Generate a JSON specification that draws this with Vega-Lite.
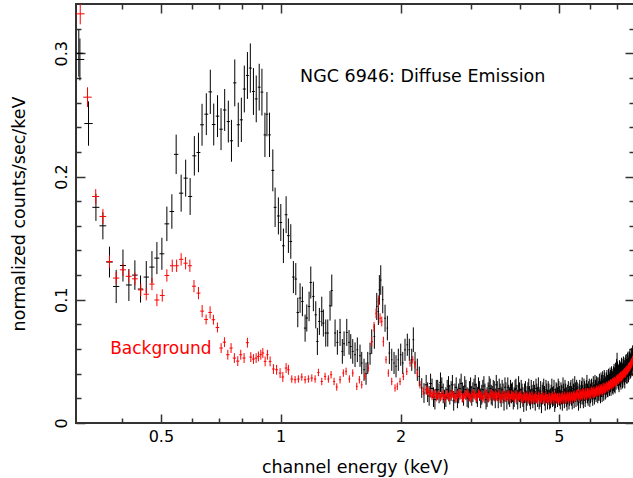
{
"$schema": "https://vega.github.io/schema/vega-lite/v6.json",
"width": 558,
"height": 419,
"autosize": {"type": "none"},
"padding": {"left": 76, "top": 4, "right": 0, "bottom": 55},
"background": "white",
"config": {
  "view": {"stroke": "#333333", "strokeWidth": 2},
  "font": "DejaVu Sans",
  "axis": {"domain": false, "grid": false, "tickColor": "#333333", "tickWidth": 1.5, "labelColor": "#000000", "titleColor": "#000000", "labelFont": "DejaVu Sans", "titleFont": "DejaVu Sans", "labelFontSize": 16, "titleFontSize": 17.5, "titleFontWeight": "normal", "labelOverlap": false, "labelFlush": false, "labelBound": false}
},
"datasets": {
"src": [
{"e":0.311,"y":0.300,"d":0.019,"w":0.008},
{"e":0.313,"y":0.295,"d":0.017,"w":0.008},
{"e":0.329,"y":0.243,"d":0.018,"w":0.008},
{"e":0.3434,"y":0.175,"d":0.011,"w":0.007},
{"e":0.3575,"y":0.160,"d":0.011,"w":0.007},
{"e":0.3714,"y":0.1306,"d":0.0125,"w":0.007},
{"e":0.3861,"y":0.1108,"d":0.0135,"w":0.007},
{"e":0.4015,"y":0.1278,"d":0.013,"w":0.007},
{"e":0.4155,"y":0.112,"d":0.013,"w":0.007},
{"e":0.4302,"y":0.120,"d":0.012,"w":0.007},
{"e":0.4445,"y":0.1087,"d":0.011,"w":0.007},
{"e":0.4595,"y":0.1184,"d":0.013,"w":0.007},
{"e":0.4748,"y":0.1265,"d":0.013,"w":0.007},
{"e":0.4886,"y":0.1338,"d":0.013,"w":0.007},
{"e":0.5029,"y":0.1373,"d":0.013,"w":0.007},
{"e":0.5176,"y":0.1616,"d":0.014,"w":0.007},
{"e":0.5328,"y":0.1716,"d":0.014,"w":0.007},
{"e":0.5462,"y":0.218,"d":0.016,"w":0.007},
{"e":0.5622,"y":0.1865,"d":0.015,"w":0.007},
{"e":0.5771,"y":0.1987,"d":0.015,"w":0.007},
{"e":0.5922,"y":0.1838,"d":0.015,"w":0.007},
{"e":0.6068,"y":0.2168,"d":0.016,"w":0.007},
{"e":0.6214,"y":0.2195,"d":0.016,"w":0.007},
{"e":0.6344,"y":0.242,"d":0.017,"w":0.007},
{"e":0.6503,"y":0.2506,"d":0.017,"w":0.007},
{"e":0.6655,"y":0.2687,"d":0.018,"w":0.007},
{"e":0.6788,"y":0.2422,"d":0.017,"w":0.007},
{"e":0.6939,"y":0.249,"d":0.017,"w":0.007},
{"e":0.7081,"y":0.2384,"d":0.017,"w":0.007},
{"e":0.7232,"y":0.254,"d":0.017,"w":0.007},
{"e":0.7386,"y":0.2446,"d":0.017,"w":0.007},
{"e":0.7521,"y":0.229,"d":0.017,"w":0.007},
{"e":0.7667,"y":0.276,"d":0.019,"w":0.007},
{"e":0.7824,"y":0.242,"d":0.018,"w":0.007},
{"e":0.7964,"y":0.246,"d":0.018,"w":0.007},
{"e":0.8102,"y":0.271,"d":0.019,"w":0.007},
{"e":0.8249,"y":0.282,"d":0.019,"w":0.007},
{"e":0.8389,"y":0.288,"d":0.020,"w":0.007},
{"e":0.8541,"y":0.269,"d":0.019,"w":0.007},
{"e":0.8681,"y":0.263,"d":0.019,"w":0.007},
{"e":0.8831,"y":0.2725,"d":0.019,"w":0.007},
{"e":0.8971,"y":0.2685,"d":0.019,"w":0.007},
{"e":0.9128,"y":0.2338,"d":0.018,"w":0.007},
{"e":0.9234,"y":0.2506,"d":0.018,"w":0.007},
{"e":0.9374,"y":0.2338,"d":0.018,"w":0.007},
{"e":0.9554,"y":0.205,"d":0.017,"w":0.008},
{"e":0.9681,"y":0.175,"d":0.016,"w":0.008},
{"e":0.9867,"y":0.168,"d":0.015,"w":0.008},
{"e":1.0006,"y":0.1627,"d":0.015,"w":0.008},
{"e":1.0158,"y":0.1438,"d":0.014,"w":0.008},
{"e":1.0318,"y":0.169,"d":0.015,"w":0.008},
{"e":1.0455,"y":0.152,"d":0.014,"w":0.008},
{"e":1.0601,"y":0.1473,"d":0.014,"w":0.008},
{"e":1.0762,"y":0.1184,"d":0.013,"w":0.008},
{"e":1.0912,"y":0.1168,"d":0.013,"w":0.008},
{"e":1.1039,"y":0.0897,"d":0.012,"w":0.008},
{"e":1.1186,"y":0.1014,"d":0.012,"w":0.008},
{"e":1.1337,"y":0.0986,"d":0.012,"w":0.008},
{"e":1.1516,"y":0.077,"d":0.011,"w":0.008},
{"e":1.1629,"y":0.0852,"d":0.011,"w":0.008},
{"e":1.1785,"y":0.0946,"d":0.012,"w":0.008},
{"e":1.1901,"y":0.114,"d":0.013,"w":0.008},
{"e":1.2080,"y":0.1027,"d":0.012,"w":0.008},
{"e":1.2249,"y":0.0878,"d":0.011,"w":0.008},
{"e":1.2363,"y":0.0662,"d":0.011,"w":0.008},
{"e":1.2508,"y":0.0824,"d":0.011,"w":0.008},
{"e":1.2682,"y":0.0905,"d":0.012,"w":0.008},
{"e":1.2800,"y":0.0811,"d":0.011,"w":0.008},
{"e":1.2978,"y":0.073,"d":0.011,"w":0.008},
{"e":1.3129,"y":0.073,"d":0.011,"w":0.008},
{"e":1.3305,"y":0.0951,"d":0.012,"w":0.008},
{"e":1.3437,"y":0.1075,"d":0.013,"w":0.008},
{"e":1.3696,"y":0.073,"d":0.011,"w":0.008},
{"e":1.3879,"y":0.0654,"d":0.010,"w":0.008},
{"e":1.4097,"y":0.0735,"d":0.011,"w":0.008},
{"e":1.4286,"y":0.0581,"d":0.010,"w":0.008},
{"e":1.4428,"y":0.0643,"d":0.010,"w":0.008},
{"e":1.4656,"y":0.0735,"d":0.011,"w":0.008},
{"e":1.4850,"y":0.0654,"d":0.010,"w":0.008},
{"e":1.4997,"y":0.0621,"d":0.010,"w":0.008},
{"e":1.5171,"y":0.0581,"d":0.010,"w":0.008},
{"e":1.5373,"y":0.0554,"d":0.010,"w":0.008},
{"e":1.5580,"y":0.0594,"d":0.010,"w":0.008},
{"e":1.5823,"y":0.0546,"d":0.009,"w":0.008},
{"e":1.5980,"y":0.0487,"d":0.009,"w":0.008},
{"e":1.6195,"y":0.0432,"d":0.009,"w":0.008},
{"e":1.6383,"y":0.040,"d":0.009,"w":0.008},
{"e":1.6546,"y":0.0487,"d":0.009,"w":0.008},
{"e":1.6768,"y":0.0562,"d":0.009,"w":0.008},
{"e":1.6932,"y":0.066,"d":0.010,"w":0.008},
{"e":1.7192,"y":0.0702,"d":0.010,"w":0.008},
{"e":1.7432,"y":0.0946,"d":0.011,"w":0.008},
{"e":1.7594,"y":0.0905,"d":0.011,"w":0.008},
{"e":1.7696,"y":0.108,"d":0.012,"w":0.008},
{"e":1.7839,"y":0.116,"d":0.012,"w":0.008},
{"e":1.8046,"y":0.100,"d":0.011,"w":0.008},
{"e":1.8288,"y":0.085,"d":0.011,"w":0.008},
{"e":1.8534,"y":0.077,"d":0.010,"w":0.008},
{"e":1.8748,"y":0.0568,"d":0.009,"w":0.008},
{"e":1.9009,"y":0.0513,"d":0.009,"w":0.008},
{"e":1.9264,"y":0.0487,"d":0.009,"w":0.008},
{"e":1.9487,"y":0.046,"d":0.009,"w":0.008},
{"e":1.9749,"y":0.0513,"d":0.009,"w":0.008},
{"e":2.0024,"y":0.0554,"d":0.009,"w":0.01},
{"e":2.0258,"y":0.0487,"d":0.009,"w":0.01},
{"e":2.0526,"y":0.0594,"d":0.009,"w":0.01},
{"e":2.0803,"y":0.0635,"d":0.009,"w":0.01},
{"e":2.1044,"y":0.0594,"d":0.009,"w":0.01},
{"e":2.1342,"y":0.0513,"d":0.009,"w":0.01},
{"e":2.1540,"y":0.0676,"d":0.010,"w":0.01},
{"e":2.1750,"y":0.0487,"d":0.009,"w":0.01},
{"e":2.2043,"y":0.0432,"d":0.009,"w":0.01},
{"e":2.2298,"y":0.0378,"d":0.008,"w":0.01},
{"e":2.2613,"y":0.0284,"d":0.008,"w":0.01},
{"e":2.2909,"y":0.0243,"d":0.008,"w":0.01},
{"e":2.32,"y":0.031,"d":0.008,"w":0.02},
{"e":2.36,"y":0.022,"d":0.008,"w":0.02},
{"e":2.40,"y":0.028,"d":0.008,"w":0.02},
{"e":2.44,"y":0.019,"d":0.008,"w":0.02},
{"e":2.48,"y":0.027,"d":0.008,"w":0.02},
{"e":2.52,"y":0.033,"d":0.008,"w":0.02},
{"e":2.56,"y":0.024,"d":0.008,"w":0.02},
{"e":2.60,"y":0.021,"d":0.008,"w":0.02},
{"e":2.64,"y":0.030,"d":0.008,"w":0.02},
{"e":2.68,"y":0.026,"d":0.008,"w":0.02},
{"e":2.72,"y":0.018,"d":0.008,"w":0.02},
{"e":2.76,"y":0.029,"d":0.008,"w":0.02},
{"e":2.80,"y":0.024,"d":0.008,"w":0.02},
{"e":2.84,"y":0.032,"d":0.008,"w":0.02},
{"e":2.88,"y":0.022,"d":0.008,"w":0.02},
{"e":2.92,"y":0.027,"d":0.008,"w":0.02},
{"e":2.96,"y":0.020,"d":0.008,"w":0.02},
{"e":3.00,"y":0.029,"d":0.008,"w":0.02},
{"e":3.04,"y":0.025,"d":0.008,"w":0.02},
{"e":3.08,"y":0.031,"d":0.008,"w":0.02},
{"e":3.12,"y":0.021,"d":0.008,"w":0.02},
{"e":3.16,"y":0.026,"d":0.008,"w":0.02},
{"e":3.20,"y":0.023,"d":0.008,"w":0.02},
{"e":3.24,"y":0.030,"d":0.008,"w":0.02},
{"e":3.28,"y":0.019,"d":0.008,"w":0.02},
{"e":3.32,"y":0.025,"d":0.008,"w":0.02},
{"e":3.36,"y":0.028,"d":0.008,"w":0.02},
{"e":3.40,"y":0.022,"d":0.008,"w":0.02},
{"e":3.44,"y":0.026,"d":0.008,"w":0.02},
{"e":3.48,"y":0.031,"d":0.008,"w":0.02},
{"e":3.52,"y":0.020,"d":0.008,"w":0.02},
{"e":3.56,"y":0.024,"d":0.008,"w":0.02},
{"e":3.60,"y":0.027,"d":0.008,"w":0.02},
{"e":3.64,"y":0.018,"d":0.008,"w":0.02},
{"e":3.68,"y":0.025,"d":0.008,"w":0.02},
{"e":3.72,"y":0.029,"d":0.008,"w":0.02},
{"e":3.76,"y":0.021,"d":0.008,"w":0.02},
{"e":3.80,"y":0.024,"d":0.008,"w":0.02},
{"e":3.84,"y":0.019,"d":0.008,"w":0.02},
{"e":3.88,"y":0.027,"d":0.008,"w":0.02},
{"e":3.92,"y":0.023,"d":0.008,"w":0.02},
{"e":3.96,"y":0.030,"d":0.008,"w":0.02},
{"e":4.00,"y":0.020,"d":0.008,"w":0.02},
{"e":4.04,"y":0.024,"d":0.008,"w":0.02},
{"e":4.08,"y":0.017,"d":0.008,"w":0.02},
{"e":4.12,"y":0.026,"d":0.008,"w":0.02},
{"e":4.16,"y":0.022,"d":0.008,"w":0.02},
{"e":4.20,"y":0.028,"d":0.008,"w":0.02},
{"e":4.24,"y":0.019,"d":0.008,"w":0.02},
{"e":4.28,"y":0.023,"d":0.008,"w":0.02},
{"e":4.32,"y":0.026,"d":0.008,"w":0.02},
{"e":4.36,"y":0.018,"d":0.008,"w":0.02},
{"e":4.40,"y":0.024,"d":0.008,"w":0.02},
{"e":4.44,"y":0.029,"d":0.008,"w":0.02},
{"e":4.48,"y":0.021,"d":0.008,"w":0.02},
{"e":4.52,"y":0.016,"d":0.008,"w":0.02},
{"e":4.56,"y":0.025,"d":0.008,"w":0.02},
{"e":4.60,"y":0.022,"d":0.008,"w":0.02},
{"e":4.64,"y":0.027,"d":0.008,"w":0.02},
{"e":4.68,"y":0.019,"d":0.008,"w":0.02},
{"e":4.72,"y":0.024,"d":0.008,"w":0.02},
{"e":4.76,"y":0.020,"d":0.008,"w":0.02},
{"e":4.80,"y":0.028,"d":0.008,"w":0.02},
{"e":4.84,"y":0.022,"d":0.008,"w":0.02},
{"e":4.88,"y":0.017,"d":0.008,"w":0.02},
{"e":4.92,"y":0.025,"d":0.008,"w":0.02},
{"e":4.96,"y":0.021,"d":0.008,"w":0.02},
{"e":5.00,"y":0.026,"d":0.008,"w":0.02},
{"e":5.04,"y":0.019,"d":0.008,"w":0.02},
{"e":5.08,"y":0.023,"d":0.008,"w":0.02},
{"e":5.12,"y":0.029,"d":0.008,"w":0.02},
{"e":5.16,"y":0.020,"d":0.008,"w":0.02},
{"e":5.20,"y":0.024,"d":0.008,"w":0.02},
{"e":5.24,"y":0.018,"d":0.008,"w":0.02},
{"e":5.28,"y":0.026,"d":0.008,"w":0.02},
{"e":5.32,"y":0.022,"d":0.008,"w":0.02},
{"e":5.36,"y":0.027,"d":0.008,"w":0.02},
{"e":5.40,"y":0.019,"d":0.008,"w":0.02},
{"e":5.44,"y":0.024,"d":0.008,"w":0.02},
{"e":5.48,"y":0.030,"d":0.008,"w":0.02},
{"e":5.52,"y":0.021,"d":0.008,"w":0.02},
{"e":5.56,"y":0.025,"d":0.008,"w":0.02},
{"e":5.60,"y":0.018,"d":0.008,"w":0.02},
{"e":5.64,"y":0.027,"d":0.008,"w":0.02},
{"e":5.68,"y":0.023,"d":0.008,"w":0.02},
{"e":5.72,"y":0.029,"d":0.008,"w":0.02},
{"e":5.76,"y":0.020,"d":0.008,"w":0.02},
{"e":5.80,"y":0.026,"d":0.008,"w":0.02},
{"e":5.84,"y":0.024,"d":0.008,"w":0.02},
{"e":5.88,"y":0.031,"d":0.008,"w":0.02},
{"e":5.92,"y":0.022,"d":0.008,"w":0.02},
{"e":5.96,"y":0.028,"d":0.008,"w":0.02},
{"e":6.00,"y":0.024,"d":0.008,"w":0.02},
{"e":6.04,"y":0.028,"d":0.008,"w":0.02},
{"e":6.08,"y":0.022,"d":0.008,"w":0.02},
{"e":6.12,"y":0.027,"d":0.008,"w":0.02},
{"e":6.16,"y":0.031,"d":0.008,"w":0.02},
{"e":6.20,"y":0.025,"d":0.008,"w":0.02},
{"e":6.24,"y":0.029,"d":0.008,"w":0.02},
{"e":6.28,"y":0.026,"d":0.008,"w":0.02},
{"e":6.32,"y":0.031,"d":0.009,"w":0.02},
{"e":6.36,"y":0.025,"d":0.009,"w":0.02},
{"e":6.40,"y":0.030,"d":0.009,"w":0.02},
{"e":6.44,"y":0.033,"d":0.009,"w":0.02},
{"e":6.48,"y":0.027,"d":0.009,"w":0.02},
{"e":6.52,"y":0.032,"d":0.009,"w":0.02},
{"e":6.56,"y":0.029,"d":0.009,"w":0.02},
{"e":6.60,"y":0.034,"d":0.009,"w":0.02},
{"e":6.64,"y":0.030,"d":0.009,"w":0.02},
{"e":6.68,"y":0.033,"d":0.009,"w":0.02},
{"e":6.72,"y":0.036,"d":0.009,"w":0.02},
{"e":6.76,"y":0.031,"d":0.009,"w":0.02},
{"e":6.80,"y":0.035,"d":0.009,"w":0.02},
{"e":6.84,"y":0.032,"d":0.009,"w":0.02},
{"e":6.88,"y":0.038,"d":0.010,"w":0.02},
{"e":6.92,"y":0.034,"d":0.010,"w":0.02},
{"e":6.96,"y":0.037,"d":0.010,"w":0.02},
{"e":7.00,"y":0.046,"d":0.011,"w":0.02},
{"e":7.04,"y":0.038,"d":0.010,"w":0.02},
{"e":7.08,"y":0.035,"d":0.010,"w":0.02},
{"e":7.12,"y":0.040,"d":0.010,"w":0.02},
{"e":7.16,"y":0.037,"d":0.010,"w":0.02},
{"e":7.20,"y":0.042,"d":0.010,"w":0.02},
{"e":7.24,"y":0.039,"d":0.010,"w":0.02},
{"e":7.28,"y":0.043,"d":0.010,"w":0.02},
{"e":7.32,"y":0.038,"d":0.010,"w":0.02},
{"e":7.36,"y":0.045,"d":0.010,"w":0.02},
{"e":7.40,"y":0.042,"d":0.010,"w":0.02},
{"e":7.44,"y":0.047,"d":0.010,"w":0.02},
{"e":7.48,"y":0.043,"d":0.010,"w":0.02},
{"e":7.52,"y":0.048,"d":0.010,"w":0.02},
{"e":7.56,"y":0.046,"d":0.010,"w":0.02},
{"e":7.60,"y":0.051,"d":0.010,"w":0.02},
{"e":7.64,"y":0.048,"d":0.010,"w":0.02},
{"e":7.68,"y":0.052,"d":0.010,"w":0.02},
{"e":7.72,"y":0.054,"d":0.010,"w":0.02},
{"e":2.34,"y":0.025,"d":0.008,"w":0.02},
{"e":2.38,"y":0.032,"d":0.008,"w":0.02},
{"e":2.42,"y":0.021,"d":0.008,"w":0.02},
{"e":2.46,"y":0.027,"d":0.008,"w":0.02},
{"e":2.50,"y":0.024,"d":0.008,"w":0.02},
{"e":2.54,"y":0.029,"d":0.008,"w":0.02},
{"e":2.58,"y":0.019,"d":0.008,"w":0.02},
{"e":2.62,"y":0.027,"d":0.008,"w":0.02},
{"e":2.66,"y":0.023,"d":0.008,"w":0.02},
{"e":2.70,"y":0.031,"d":0.008,"w":0.02},
{"e":2.74,"y":0.024,"d":0.008,"w":0.02},
{"e":2.78,"y":0.020,"d":0.008,"w":0.02},
{"e":2.82,"y":0.028,"d":0.008,"w":0.02},
{"e":2.86,"y":0.025,"d":0.008,"w":0.02},
{"e":2.90,"y":0.030,"d":0.008,"w":0.02},
{"e":2.94,"y":0.021,"d":0.008,"w":0.02},
{"e":2.98,"y":0.026,"d":0.008,"w":0.02},
{"e":3.02,"y":0.022,"d":0.008,"w":0.02},
{"e":3.06,"y":0.028,"d":0.008,"w":0.02},
{"e":3.10,"y":0.024,"d":0.008,"w":0.02},
{"e":3.14,"y":0.029,"d":0.008,"w":0.02},
{"e":3.18,"y":0.020,"d":0.008,"w":0.02},
{"e":3.22,"y":0.027,"d":0.008,"w":0.02},
{"e":3.26,"y":0.024,"d":0.008,"w":0.02},
{"e":3.30,"y":0.021,"d":0.008,"w":0.02},
{"e":3.34,"y":0.030,"d":0.008,"w":0.02},
{"e":3.38,"y":0.023,"d":0.008,"w":0.02},
{"e":3.42,"y":0.027,"d":0.008,"w":0.02},
{"e":3.46,"y":0.020,"d":0.008,"w":0.02},
{"e":3.50,"y":0.026,"d":0.008,"w":0.02},
{"e":3.54,"y":0.028,"d":0.008,"w":0.02},
{"e":3.58,"y":0.021,"d":0.008,"w":0.02},
{"e":3.62,"y":0.024,"d":0.008,"w":0.02},
{"e":3.66,"y":0.029,"d":0.008,"w":0.02},
{"e":3.70,"y":0.019,"d":0.008,"w":0.02},
{"e":3.74,"y":0.023,"d":0.008,"w":0.02},
{"e":3.78,"y":0.027,"d":0.008,"w":0.02},
{"e":3.82,"y":0.025,"d":0.008,"w":0.02},
{"e":3.86,"y":0.021,"d":0.008,"w":0.02},
{"e":3.90,"y":0.028,"d":0.008,"w":0.02},
{"e":3.94,"y":0.019,"d":0.008,"w":0.02},
{"e":3.98,"y":0.025,"d":0.008,"w":0.02},
{"e":4.02,"y":0.027,"d":0.008,"w":0.02},
{"e":4.06,"y":0.021,"d":0.008,"w":0.02},
{"e":4.10,"y":0.024,"d":0.008,"w":0.02},
{"e":4.14,"y":0.018,"d":0.008,"w":0.02},
{"e":4.18,"y":0.025,"d":0.008,"w":0.02},
{"e":4.22,"y":0.022,"d":0.008,"w":0.02},
{"e":4.26,"y":0.027,"d":0.008,"w":0.02},
{"e":4.30,"y":0.020,"d":0.008,"w":0.02},
{"e":4.34,"y":0.023,"d":0.008,"w":0.02},
{"e":4.38,"y":0.028,"d":0.008,"w":0.02},
{"e":4.42,"y":0.021,"d":0.008,"w":0.02},
{"e":4.46,"y":0.019,"d":0.008,"w":0.02},
{"e":4.50,"y":0.026,"d":0.008,"w":0.02},
{"e":4.54,"y":0.023,"d":0.008,"w":0.02},
{"e":4.58,"y":0.028,"d":0.008,"w":0.02},
{"e":4.62,"y":0.018,"d":0.008,"w":0.02},
{"e":4.66,"y":0.024,"d":0.008,"w":0.02},
{"e":4.70,"y":0.026,"d":0.008,"w":0.02},
{"e":4.74,"y":0.019,"d":0.008,"w":0.02},
{"e":4.78,"y":0.023,"d":0.008,"w":0.02},
{"e":4.82,"y":0.021,"d":0.008,"w":0.02},
{"e":4.86,"y":0.027,"d":0.008,"w":0.02},
{"e":4.90,"y":0.020,"d":0.008,"w":0.02},
{"e":4.94,"y":0.024,"d":0.008,"w":0.02},
{"e":4.98,"y":0.028,"d":0.008,"w":0.02},
{"e":5.02,"y":0.022,"d":0.008,"w":0.02},
{"e":5.06,"y":0.025,"d":0.008,"w":0.02},
{"e":5.10,"y":0.018,"d":0.008,"w":0.02},
{"e":5.14,"y":0.024,"d":0.008,"w":0.02},
{"e":5.18,"y":0.027,"d":0.008,"w":0.02},
{"e":5.22,"y":0.021,"d":0.008,"w":0.02},
{"e":5.26,"y":0.023,"d":0.008,"w":0.02},
{"e":5.30,"y":0.019,"d":0.008,"w":0.02},
{"e":5.34,"y":0.025,"d":0.008,"w":0.02},
{"e":5.38,"y":0.022,"d":0.008,"w":0.02},
{"e":5.42,"y":0.028,"d":0.008,"w":0.02},
{"e":5.46,"y":0.020,"d":0.008,"w":0.02},
{"e":5.50,"y":0.025,"d":0.008,"w":0.02},
{"e":5.54,"y":0.027,"d":0.008,"w":0.02},
{"e":5.58,"y":0.022,"d":0.008,"w":0.02},
{"e":5.62,"y":0.024,"d":0.008,"w":0.02},
{"e":5.66,"y":0.020,"d":0.008,"w":0.02},
{"e":5.70,"y":0.026,"d":0.008,"w":0.02},
{"e":5.74,"y":0.023,"d":0.008,"w":0.02},
{"e":5.78,"y":0.028,"d":0.008,"w":0.02},
{"e":5.82,"y":0.021,"d":0.008,"w":0.02},
{"e":5.86,"y":0.027,"d":0.008,"w":0.02},
{"e":5.90,"y":0.024,"d":0.008,"w":0.02},
{"e":5.94,"y":0.026,"d":0.008,"w":0.02},
{"e":5.98,"y":0.021,"d":0.008,"w":0.02},
{"e":6.02,"y":0.027,"d":0.008,"w":0.02},
{"e":6.06,"y":0.025,"d":0.008,"w":0.02},
{"e":6.10,"y":0.030,"d":0.008,"w":0.02},
{"e":6.14,"y":0.023,"d":0.008,"w":0.02},
{"e":6.18,"y":0.027,"d":0.008,"w":0.02},
{"e":6.22,"y":0.030,"d":0.008,"w":0.02},
{"e":6.26,"y":0.024,"d":0.008,"w":0.02},
{"e":6.30,"y":0.029,"d":0.008,"w":0.02},
{"e":6.34,"y":0.027,"d":0.009,"w":0.02},
{"e":6.38,"y":0.032,"d":0.009,"w":0.02},
{"e":6.42,"y":0.026,"d":0.009,"w":0.02},
{"e":6.46,"y":0.030,"d":0.009,"w":0.02},
{"e":6.50,"y":0.034,"d":0.009,"w":0.02},
{"e":6.54,"y":0.028,"d":0.009,"w":0.02},
{"e":6.58,"y":0.032,"d":0.009,"w":0.02},
{"e":6.62,"y":0.030,"d":0.009,"w":0.02},
{"e":6.66,"y":0.035,"d":0.009,"w":0.02},
{"e":6.70,"y":0.031,"d":0.009,"w":0.02},
{"e":6.74,"y":0.034,"d":0.009,"w":0.02},
{"e":6.78,"y":0.037,"d":0.009,"w":0.02},
{"e":6.82,"y":0.033,"d":0.009,"w":0.02},
{"e":6.86,"y":0.036,"d":0.010,"w":0.02},
{"e":6.90,"y":0.035,"d":0.010,"w":0.02},
{"e":6.94,"y":0.039,"d":0.010,"w":0.02},
{"e":6.98,"y":0.042,"d":0.010,"w":0.02},
{"e":7.02,"y":0.040,"d":0.010,"w":0.02},
{"e":7.06,"y":0.037,"d":0.010,"w":0.02},
{"e":7.10,"y":0.041,"d":0.010,"w":0.02},
{"e":7.14,"y":0.039,"d":0.010,"w":0.02},
{"e":7.18,"y":0.043,"d":0.010,"w":0.02},
{"e":7.22,"y":0.038,"d":0.010,"w":0.02},
{"e":7.26,"y":0.044,"d":0.010,"w":0.02},
{"e":7.30,"y":0.041,"d":0.010,"w":0.02},
{"e":7.34,"y":0.043,"d":0.010,"w":0.02},
{"e":7.38,"y":0.046,"d":0.010,"w":0.02},
{"e":7.42,"y":0.042,"d":0.010,"w":0.02},
{"e":7.46,"y":0.048,"d":0.010,"w":0.02},
{"e":7.50,"y":0.045,"d":0.010,"w":0.02},
{"e":7.54,"y":0.050,"d":0.010,"w":0.02},
{"e":7.58,"y":0.047,"d":0.010,"w":0.02},
{"e":7.62,"y":0.049,"d":0.010,"w":0.02},
{"e":7.66,"y":0.053,"d":0.010,"w":0.02},
{"e":7.70,"y":0.051,"d":0.010,"w":0.02}
],
"bkg": [
{"e":0.3136,"y":0.332,"d":0.0085,"w":0.008},
{"e":0.3271,"y":0.2644,"d":0.008,"w":0.008},
{"e":0.3430,"y":0.1838,"d":0.006,"w":0.007},
{"e":0.3575,"y":0.1676,"d":0.006,"w":0.007},
{"e":0.3714,"y":0.131,"d":0.005,"w":0.007},
{"e":0.3861,"y":0.1176,"d":0.005,"w":0.007},
{"e":0.4015,"y":0.1243,"d":0.005,"w":0.007},
{"e":0.4150,"y":0.119,"d":0.005,"w":0.007},
{"e":0.4302,"y":0.117,"d":0.005,"w":0.007},
{"e":0.4450,"y":0.108,"d":0.005,"w":0.007},
{"e":0.4595,"y":0.1045,"d":0.005,"w":0.007},
{"e":0.4748,"y":0.1127,"d":0.005,"w":0.007},
{"e":0.4886,"y":0.0998,"d":0.005,"w":0.007},
{"e":0.5041,"y":0.1035,"d":0.005,"w":0.007},
{"e":0.5176,"y":0.1197,"d":0.005,"w":0.007},
{"e":0.5340,"y":0.1276,"d":0.005,"w":0.007},
{"e":0.5477,"y":0.1276,"d":0.005,"w":0.007},
{"e":0.5622,"y":0.1328,"d":0.005,"w":0.007},
{"e":0.5768,"y":0.1297,"d":0.005,"w":0.007},
{"e":0.5913,"y":0.1276,"d":0.005,"w":0.007},
{"e":0.6055,"y":0.111,"d":0.005,"w":0.007},
{"e":0.6214,"y":0.1054,"d":0.005,"w":0.007},
{"e":0.6348,"y":0.0908,"d":0.005,"w":0.007},
{"e":0.6495,"y":0.084,"d":0.004,"w":0.007},
{"e":0.6647,"y":0.0897,"d":0.005,"w":0.007},
{"e":0.6776,"y":0.0838,"d":0.004,"w":0.007},
{"e":0.6935,"y":0.0775,"d":0.004,"w":0.007},
{"e":0.7085,"y":0.0608,"d":0.004,"w":0.007},
{"e":0.7222,"y":0.0656,"d":0.004,"w":0.007},
{"e":0.7364,"y":0.0554,"d":0.004,"w":0.007},
{"e":0.7505,"y":0.0608,"d":0.004,"w":0.007},
{"e":0.7649,"y":0.0527,"d":0.004,"w":0.007},
{"e":0.7801,"y":0.0502,"d":0.004,"w":0.007},
{"e":0.7937,"y":0.0554,"d":0.004,"w":0.007},
{"e":0.8091,"y":0.0527,"d":0.004,"w":0.007},
{"e":0.8249,"y":0.0652,"d":0.004,"w":0.007},
{"e":0.8412,"y":0.0535,"d":0.004,"w":0.007},
{"e":0.8541,"y":0.0519,"d":0.004,"w":0.007},
{"e":0.8675,"y":0.0527,"d":0.004,"w":0.007},
{"e":0.8790,"y":0.054,"d":0.004,"w":0.007},
{"e":0.8913,"y":0.0554,"d":0.004,"w":0.007},
{"e":0.9018,"y":0.0568,"d":0.004,"w":0.007},
{"e":0.9138,"y":0.050,"d":0.004,"w":0.007},
{"e":0.9260,"y":0.0554,"d":0.004,"w":0.007},
{"e":0.9405,"y":0.050,"d":0.004,"w":0.007},
{"e":0.9587,"y":0.0438,"d":0.004,"w":0.008},
{"e":0.9766,"y":0.0432,"d":0.004,"w":0.008},
{"e":0.9965,"y":0.0405,"d":0.004,"w":0.008},
{"e":1.0123,"y":0.0373,"d":0.004,"w":0.008},
{"e":1.0318,"y":0.0446,"d":0.004,"w":0.008},
{"e":1.0455,"y":0.0432,"d":0.004,"w":0.008},
{"e":1.0663,"y":0.0357,"d":0.003,"w":0.008},
{"e":1.0869,"y":0.0351,"d":0.003,"w":0.008},
{"e":1.1076,"y":0.0357,"d":0.003,"w":0.008},
{"e":1.1298,"y":0.0373,"d":0.003,"w":0.008},
{"e":1.1516,"y":0.0351,"d":0.003,"w":0.008},
{"e":1.1737,"y":0.0357,"d":0.003,"w":0.008},
{"e":1.1971,"y":0.0365,"d":0.003,"w":0.008},
{"e":1.2202,"y":0.0357,"d":0.003,"w":0.008},
{"e":1.2438,"y":0.041,"d":0.003,"w":0.008},
{"e":1.2682,"y":0.0337,"d":0.003,"w":0.008},
{"e":1.2928,"y":0.0378,"d":0.003,"w":0.008},
{"e":1.3177,"y":0.0357,"d":0.003,"w":0.008},
{"e":1.3384,"y":0.0392,"d":0.003,"w":0.008},
{"e":1.3617,"y":0.0337,"d":0.003,"w":0.008},
{"e":1.3830,"y":0.0292,"d":0.003,"w":0.008},
{"e":1.4097,"y":0.0351,"d":0.003,"w":0.008},
{"e":1.4368,"y":0.0405,"d":0.003,"w":0.008},
{"e":1.4596,"y":0.0419,"d":0.003,"w":0.008},
{"e":1.4878,"y":0.0357,"d":0.003,"w":0.008},
{"e":1.5171,"y":0.0405,"d":0.003,"w":0.008},
{"e":1.5530,"y":0.0297,"d":0.003,"w":0.008},
{"e":1.5764,"y":0.0351,"d":0.003,"w":0.008},
{"e":1.5980,"y":0.031,"d":0.003,"w":0.008},
{"e":1.6288,"y":0.038,"d":0.003,"w":0.008},
{"e":1.6603,"y":0.0446,"d":0.003,"w":0.008},
{"e":1.6932,"y":0.066,"d":0.004,"w":0.008},
{"e":1.7160,"y":0.078,"d":0.004,"w":0.008},
{"e":1.7359,"y":0.089,"d":0.004,"w":0.008},
{"e":1.7594,"y":0.0986,"d":0.005,"w":0.008},
{"e":1.7769,"y":0.085,"d":0.004,"w":0.008},
{"e":1.7944,"y":0.0824,"d":0.004,"w":0.008},
{"e":1.8112,"y":0.066,"d":0.004,"w":0.008},
{"e":1.8394,"y":0.0513,"d":0.003,"w":0.008},
{"e":1.8641,"y":0.0405,"d":0.003,"w":0.008},
{"e":1.9009,"y":0.0337,"d":0.003,"w":0.008},
{"e":1.9376,"y":0.0284,"d":0.003,"w":0.008},
{"e":1.9634,"y":0.0297,"d":0.003,"w":0.008},
{"e":1.9946,"y":0.0337,"d":0.003,"w":0.01},
{"e":2.0331,"y":0.0378,"d":0.003,"w":0.01},
{"e":2.0733,"y":0.0419,"d":0.003,"w":0.01},
{"e":2.1134,"y":0.0487,"d":0.003,"w":0.01},
{"e":2.1468,"y":0.0513,"d":0.003,"w":0.01},
{"e":2.1750,"y":0.0473,"d":0.003,"w":0.01},
{"e":2.2043,"y":0.0405,"d":0.003,"w":0.01},
{"e":2.2387,"y":0.031,"d":0.003,"w":0.01},
{"e":2.2818,"y":0.0256,"d":0.003,"w":0.01},
{"e":2.34,"y":0.026,"d":0.0035,"w":0.02},
{"e":2.38,"y":0.024,"d":0.0035,"w":0.02},
{"e":2.42,"y":0.023,"d":0.0035,"w":0.02},
{"e":2.46,"y":0.021,"d":0.0035,"w":0.02},
{"e":2.50,"y":0.023,"d":0.0035,"w":0.02},
{"e":2.54,"y":0.022,"d":0.0035,"w":0.02},
{"e":2.58,"y":0.020,"d":0.0035,"w":0.02},
{"e":2.62,"y":0.023,"d":0.0035,"w":0.02},
{"e":2.66,"y":0.022,"d":0.0035,"w":0.02},
{"e":2.70,"y":0.024,"d":0.0035,"w":0.02},
{"e":2.74,"y":0.021,"d":0.0035,"w":0.02},
{"e":2.78,"y":0.023,"d":0.0035,"w":0.02},
{"e":2.82,"y":0.022,"d":0.0035,"w":0.02},
{"e":2.86,"y":0.020,"d":0.0035,"w":0.02},
{"e":2.90,"y":0.023,"d":0.0035,"w":0.02},
{"e":2.94,"y":0.024,"d":0.0035,"w":0.02},
{"e":2.98,"y":0.021,"d":0.0035,"w":0.02},
{"e":3.02,"y":0.022,"d":0.0035,"w":0.02},
{"e":3.06,"y":0.023,"d":0.0035,"w":0.02},
{"e":3.10,"y":0.021,"d":0.0035,"w":0.02},
{"e":3.14,"y":0.024,"d":0.0035,"w":0.02},
{"e":3.18,"y":0.022,"d":0.0035,"w":0.02},
{"e":3.22,"y":0.020,"d":0.0035,"w":0.02},
{"e":3.26,"y":0.023,"d":0.0035,"w":0.02},
{"e":3.30,"y":0.022,"d":0.0035,"w":0.02},
{"e":3.34,"y":0.021,"d":0.0035,"w":0.02},
{"e":3.38,"y":0.024,"d":0.0035,"w":0.02},
{"e":3.42,"y":0.022,"d":0.0035,"w":0.02},
{"e":3.46,"y":0.023,"d":0.0035,"w":0.02},
{"e":3.50,"y":0.021,"d":0.0035,"w":0.02},
{"e":3.54,"y":0.022,"d":0.0035,"w":0.02},
{"e":3.58,"y":0.020,"d":0.0035,"w":0.02},
{"e":3.62,"y":0.023,"d":0.0035,"w":0.02},
{"e":3.66,"y":0.022,"d":0.0035,"w":0.02},
{"e":3.70,"y":0.021,"d":0.0035,"w":0.02},
{"e":3.74,"y":0.023,"d":0.0035,"w":0.02},
{"e":3.78,"y":0.020,"d":0.0035,"w":0.02},
{"e":3.82,"y":0.022,"d":0.0035,"w":0.02},
{"e":3.86,"y":0.021,"d":0.0035,"w":0.02},
{"e":3.90,"y":0.023,"d":0.0035,"w":0.02},
{"e":3.94,"y":0.020,"d":0.0035,"w":0.02},
{"e":3.98,"y":0.022,"d":0.0035,"w":0.02},
{"e":4.02,"y":0.021,"d":0.0035,"w":0.02},
{"e":4.06,"y":0.019,"d":0.0035,"w":0.02},
{"e":4.10,"y":0.022,"d":0.0035,"w":0.02},
{"e":4.14,"y":0.021,"d":0.0035,"w":0.02},
{"e":4.18,"y":0.020,"d":0.0035,"w":0.02},
{"e":4.22,"y":0.022,"d":0.0035,"w":0.02},
{"e":4.26,"y":0.019,"d":0.0035,"w":0.02},
{"e":4.30,"y":0.021,"d":0.0035,"w":0.02},
{"e":4.34,"y":0.020,"d":0.0035,"w":0.02},
{"e":4.38,"y":0.022,"d":0.0035,"w":0.02},
{"e":4.42,"y":0.019,"d":0.0035,"w":0.02},
{"e":4.46,"y":0.021,"d":0.0035,"w":0.02},
{"e":4.50,"y":0.020,"d":0.0035,"w":0.02},
{"e":4.54,"y":0.022,"d":0.0035,"w":0.02},
{"e":4.58,"y":0.019,"d":0.0035,"w":0.02},
{"e":4.62,"y":0.021,"d":0.0035,"w":0.02},
{"e":4.66,"y":0.020,"d":0.0035,"w":0.02},
{"e":4.70,"y":0.018,"d":0.0035,"w":0.02},
{"e":4.74,"y":0.021,"d":0.0035,"w":0.02},
{"e":4.78,"y":0.020,"d":0.0035,"w":0.02},
{"e":4.82,"y":0.022,"d":0.0035,"w":0.02},
{"e":4.86,"y":0.019,"d":0.0035,"w":0.02},
{"e":4.90,"y":0.021,"d":0.0035,"w":0.02},
{"e":4.94,"y":0.020,"d":0.0035,"w":0.02},
{"e":4.98,"y":0.018,"d":0.0035,"w":0.02},
{"e":5.02,"y":0.021,"d":0.0035,"w":0.02},
{"e":5.06,"y":0.020,"d":0.0035,"w":0.02},
{"e":5.10,"y":0.022,"d":0.0035,"w":0.02},
{"e":5.14,"y":0.019,"d":0.0035,"w":0.02},
{"e":5.18,"y":0.021,"d":0.0035,"w":0.02},
{"e":5.22,"y":0.020,"d":0.0035,"w":0.02},
{"e":5.26,"y":0.022,"d":0.0035,"w":0.02},
{"e":5.30,"y":0.021,"d":0.0035,"w":0.02},
{"e":5.34,"y":0.019,"d":0.0035,"w":0.02},
{"e":5.38,"y":0.022,"d":0.0035,"w":0.02},
{"e":5.42,"y":0.021,"d":0.0035,"w":0.02},
{"e":5.46,"y":0.023,"d":0.0035,"w":0.02},
{"e":5.50,"y":0.021,"d":0.0035,"w":0.02},
{"e":5.54,"y":0.023,"d":0.0035,"w":0.02},
{"e":5.58,"y":0.022,"d":0.0035,"w":0.02},
{"e":5.62,"y":0.024,"d":0.0035,"w":0.02},
{"e":5.66,"y":0.022,"d":0.0035,"w":0.02},
{"e":5.70,"y":0.023,"d":0.0035,"w":0.02},
{"e":5.74,"y":0.025,"d":0.0035,"w":0.02},
{"e":5.78,"y":0.023,"d":0.0035,"w":0.02},
{"e":5.82,"y":0.024,"d":0.0035,"w":0.02},
{"e":5.86,"y":0.022,"d":0.0035,"w":0.02},
{"e":5.90,"y":0.025,"d":0.0035,"w":0.02},
{"e":5.94,"y":0.024,"d":0.0035,"w":0.02},
{"e":5.98,"y":0.023,"d":0.0035,"w":0.02},
{"e":6.02,"y":0.025,"d":0.0035,"w":0.02},
{"e":6.06,"y":0.024,"d":0.0035,"w":0.02},
{"e":6.10,"y":0.026,"d":0.0035,"w":0.02},
{"e":6.14,"y":0.024,"d":0.0035,"w":0.02},
{"e":6.18,"y":0.025,"d":0.0035,"w":0.02},
{"e":6.22,"y":0.027,"d":0.0035,"w":0.02},
{"e":6.26,"y":0.025,"d":0.0035,"w":0.02},
{"e":6.30,"y":0.026,"d":0.0035,"w":0.02},
{"e":6.34,"y":0.028,"d":0.0035,"w":0.02},
{"e":6.38,"y":0.026,"d":0.0035,"w":0.02},
{"e":6.42,"y":0.027,"d":0.0035,"w":0.02},
{"e":6.46,"y":0.029,"d":0.0035,"w":0.02},
{"e":6.50,"y":0.027,"d":0.0035,"w":0.02},
{"e":6.54,"y":0.028,"d":0.0035,"w":0.02},
{"e":6.58,"y":0.030,"d":0.0035,"w":0.02},
{"e":6.62,"y":0.029,"d":0.0035,"w":0.02},
{"e":6.66,"y":0.031,"d":0.0035,"w":0.02},
{"e":6.70,"y":0.030,"d":0.0035,"w":0.02},
{"e":6.74,"y":0.032,"d":0.0035,"w":0.02},
{"e":6.78,"y":0.031,"d":0.0035,"w":0.02},
{"e":6.82,"y":0.033,"d":0.0035,"w":0.02},
{"e":6.86,"y":0.032,"d":0.0035,"w":0.02},
{"e":6.90,"y":0.034,"d":0.0035,"w":0.02},
{"e":6.94,"y":0.033,"d":0.0035,"w":0.02},
{"e":6.98,"y":0.035,"d":0.0035,"w":0.02},
{"e":7.02,"y":0.036,"d":0.0035,"w":0.02},
{"e":7.06,"y":0.035,"d":0.0035,"w":0.02},
{"e":7.10,"y":0.037,"d":0.0035,"w":0.02},
{"e":7.14,"y":0.038,"d":0.0035,"w":0.02},
{"e":7.18,"y":0.037,"d":0.0035,"w":0.02},
{"e":7.22,"y":0.039,"d":0.0035,"w":0.02},
{"e":7.26,"y":0.040,"d":0.0035,"w":0.02},
{"e":7.30,"y":0.041,"d":0.0035,"w":0.02},
{"e":7.34,"y":0.040,"d":0.0035,"w":0.02},
{"e":7.38,"y":0.042,"d":0.0035,"w":0.02},
{"e":7.42,"y":0.043,"d":0.0035,"w":0.02},
{"e":7.46,"y":0.044,"d":0.0035,"w":0.02},
{"e":7.50,"y":0.045,"d":0.0035,"w":0.02},
{"e":7.54,"y":0.046,"d":0.0035,"w":0.02},
{"e":7.58,"y":0.048,"d":0.0035,"w":0.02},
{"e":7.62,"y":0.049,"d":0.0035,"w":0.02},
{"e":7.66,"y":0.051,"d":0.0035,"w":0.02},
{"e":7.70,"y":0.052,"d":0.0035,"w":0.02},
{"e":2.32,"y":0.027,"d":0.0035,"w":0.02},
{"e":2.36,"y":0.025,"d":0.0035,"w":0.02},
{"e":2.40,"y":0.022,"d":0.0035,"w":0.02},
{"e":2.44,"y":0.024,"d":0.0035,"w":0.02},
{"e":2.48,"y":0.022,"d":0.0035,"w":0.02},
{"e":2.52,"y":0.021,"d":0.0035,"w":0.02},
{"e":2.56,"y":0.023,"d":0.0035,"w":0.02},
{"e":2.60,"y":0.022,"d":0.0035,"w":0.02},
{"e":2.64,"y":0.021,"d":0.0035,"w":0.02},
{"e":2.68,"y":0.023,"d":0.0035,"w":0.02},
{"e":2.72,"y":0.022,"d":0.0035,"w":0.02},
{"e":2.76,"y":0.020,"d":0.0035,"w":0.02},
{"e":2.80,"y":0.024,"d":0.0035,"w":0.02},
{"e":2.84,"y":0.023,"d":0.0035,"w":0.02},
{"e":2.88,"y":0.021,"d":0.0035,"w":0.02},
{"e":2.92,"y":0.022,"d":0.0035,"w":0.02},
{"e":2.96,"y":0.023,"d":0.0035,"w":0.02},
{"e":3.00,"y":0.020,"d":0.0035,"w":0.02},
{"e":3.04,"y":0.024,"d":0.0035,"w":0.02},
{"e":3.08,"y":0.022,"d":0.0035,"w":0.02},
{"e":3.12,"y":0.021,"d":0.0035,"w":0.02},
{"e":3.16,"y":0.023,"d":0.0035,"w":0.02},
{"e":3.20,"y":0.022,"d":0.0035,"w":0.02},
{"e":3.24,"y":0.021,"d":0.0035,"w":0.02},
{"e":3.28,"y":0.024,"d":0.0035,"w":0.02},
{"e":3.32,"y":0.020,"d":0.0035,"w":0.02},
{"e":3.36,"y":0.022,"d":0.0035,"w":0.02},
{"e":3.40,"y":0.023,"d":0.0035,"w":0.02},
{"e":3.44,"y":0.021,"d":0.0035,"w":0.02},
{"e":3.48,"y":0.022,"d":0.0035,"w":0.02},
{"e":3.52,"y":0.024,"d":0.0035,"w":0.02},
{"e":3.56,"y":0.021,"d":0.0035,"w":0.02},
{"e":3.60,"y":0.022,"d":0.0035,"w":0.02},
{"e":3.64,"y":0.020,"d":0.0035,"w":0.02},
{"e":3.68,"y":0.023,"d":0.0035,"w":0.02},
{"e":3.72,"y":0.022,"d":0.0035,"w":0.02},
{"e":3.76,"y":0.021,"d":0.0035,"w":0.02},
{"e":3.80,"y":0.023,"d":0.0035,"w":0.02},
{"e":3.84,"y":0.022,"d":0.0035,"w":0.02},
{"e":3.88,"y":0.020,"d":0.0035,"w":0.02},
{"e":3.92,"y":0.022,"d":0.0035,"w":0.02},
{"e":3.96,"y":0.021,"d":0.0035,"w":0.02},
{"e":4.00,"y":0.023,"d":0.0035,"w":0.02},
{"e":4.04,"y":0.020,"d":0.0035,"w":0.02},
{"e":4.08,"y":0.021,"d":0.0035,"w":0.02},
{"e":4.12,"y":0.020,"d":0.0035,"w":0.02},
{"e":4.16,"y":0.022,"d":0.0035,"w":0.02},
{"e":4.20,"y":0.019,"d":0.0035,"w":0.02},
{"e":4.24,"y":0.021,"d":0.0035,"w":0.02},
{"e":4.28,"y":0.022,"d":0.0035,"w":0.02},
{"e":4.32,"y":0.019,"d":0.0035,"w":0.02},
{"e":4.36,"y":0.021,"d":0.0035,"w":0.02},
{"e":4.40,"y":0.020,"d":0.0035,"w":0.02},
{"e":4.44,"y":0.022,"d":0.0035,"w":0.02},
{"e":4.48,"y":0.019,"d":0.0035,"w":0.02},
{"e":4.52,"y":0.020,"d":0.0035,"w":0.02},
{"e":4.56,"y":0.021,"d":0.0035,"w":0.02},
{"e":4.60,"y":0.019,"d":0.0035,"w":0.02},
{"e":4.64,"y":0.022,"d":0.0035,"w":0.02},
{"e":4.68,"y":0.020,"d":0.0035,"w":0.02},
{"e":4.72,"y":0.021,"d":0.0035,"w":0.02},
{"e":4.76,"y":0.019,"d":0.0035,"w":0.02},
{"e":4.80,"y":0.021,"d":0.0035,"w":0.02},
{"e":4.84,"y":0.020,"d":0.0035,"w":0.02},
{"e":4.88,"y":0.022,"d":0.0035,"w":0.02},
{"e":4.92,"y":0.019,"d":0.0035,"w":0.02},
{"e":4.96,"y":0.021,"d":0.0035,"w":0.02},
{"e":5.00,"y":0.020,"d":0.0035,"w":0.02},
{"e":5.04,"y":0.019,"d":0.0035,"w":0.02},
{"e":5.08,"y":0.021,"d":0.0035,"w":0.02},
{"e":5.12,"y":0.020,"d":0.0035,"w":0.02},
{"e":5.16,"y":0.022,"d":0.0035,"w":0.02},
{"e":5.20,"y":0.019,"d":0.0035,"w":0.02},
{"e":5.24,"y":0.021,"d":0.0035,"w":0.02},
{"e":5.28,"y":0.020,"d":0.0035,"w":0.02},
{"e":5.32,"y":0.022,"d":0.0035,"w":0.02},
{"e":5.36,"y":0.021,"d":0.0035,"w":0.02},
{"e":5.40,"y":0.020,"d":0.0035,"w":0.02},
{"e":5.44,"y":0.022,"d":0.0035,"w":0.02},
{"e":5.48,"y":0.021,"d":0.0035,"w":0.02},
{"e":5.52,"y":0.022,"d":0.0035,"w":0.02},
{"e":5.56,"y":0.024,"d":0.0035,"w":0.02},
{"e":5.60,"y":0.021,"d":0.0035,"w":0.02},
{"e":5.64,"y":0.023,"d":0.0035,"w":0.02},
{"e":5.68,"y":0.024,"d":0.0035,"w":0.02},
{"e":5.72,"y":0.022,"d":0.0035,"w":0.02},
{"e":5.76,"y":0.024,"d":0.0035,"w":0.02},
{"e":5.80,"y":0.022,"d":0.0035,"w":0.02},
{"e":5.84,"y":0.025,"d":0.0035,"w":0.02},
{"e":5.88,"y":0.023,"d":0.0035,"w":0.02},
{"e":5.92,"y":0.024,"d":0.0035,"w":0.02},
{"e":5.96,"y":0.025,"d":0.0035,"w":0.02},
{"e":6.00,"y":0.023,"d":0.0035,"w":0.02},
{"e":6.04,"y":0.026,"d":0.0035,"w":0.02},
{"e":6.08,"y":0.025,"d":0.0035,"w":0.02},
{"e":6.12,"y":0.024,"d":0.0035,"w":0.02},
{"e":6.16,"y":0.026,"d":0.0035,"w":0.02},
{"e":6.20,"y":0.025,"d":0.0035,"w":0.02},
{"e":6.24,"y":0.026,"d":0.0035,"w":0.02},
{"e":6.28,"y":0.027,"d":0.0035,"w":0.02},
{"e":6.32,"y":0.025,"d":0.0035,"w":0.02},
{"e":6.36,"y":0.027,"d":0.0035,"w":0.02},
{"e":6.40,"y":0.028,"d":0.0035,"w":0.02},
{"e":6.44,"y":0.026,"d":0.0035,"w":0.02},
{"e":6.48,"y":0.028,"d":0.0035,"w":0.02},
{"e":6.52,"y":0.029,"d":0.0035,"w":0.02},
{"e":6.56,"y":0.028,"d":0.0035,"w":0.02},
{"e":6.60,"y":0.030,"d":0.0035,"w":0.02},
{"e":6.64,"y":0.029,"d":0.0035,"w":0.02},
{"e":6.68,"y":0.030,"d":0.0035,"w":0.02},
{"e":6.72,"y":0.031,"d":0.0035,"w":0.02},
{"e":6.76,"y":0.032,"d":0.0035,"w":0.02},
{"e":6.80,"y":0.031,"d":0.0035,"w":0.02},
{"e":6.84,"y":0.033,"d":0.0035,"w":0.02},
{"e":6.88,"y":0.034,"d":0.0035,"w":0.02},
{"e":6.92,"y":0.033,"d":0.0035,"w":0.02},
{"e":6.96,"y":0.035,"d":0.0035,"w":0.02},
{"e":7.00,"y":0.034,"d":0.0035,"w":0.02},
{"e":7.04,"y":0.036,"d":0.0035,"w":0.02},
{"e":7.08,"y":0.037,"d":0.0035,"w":0.02},
{"e":7.12,"y":0.036,"d":0.0035,"w":0.02},
{"e":7.16,"y":0.038,"d":0.0035,"w":0.02},
{"e":7.20,"y":0.039,"d":0.0035,"w":0.02},
{"e":7.24,"y":0.038,"d":0.0035,"w":0.02},
{"e":7.28,"y":0.040,"d":0.0035,"w":0.02},
{"e":7.32,"y":0.041,"d":0.0035,"w":0.02},
{"e":7.36,"y":0.042,"d":0.0035,"w":0.02},
{"e":7.40,"y":0.043,"d":0.0035,"w":0.02},
{"e":7.44,"y":0.043,"d":0.0035,"w":0.02},
{"e":7.48,"y":0.045,"d":0.0035,"w":0.02},
{"e":7.52,"y":0.046,"d":0.0035,"w":0.02},
{"e":7.56,"y":0.047,"d":0.0035,"w":0.02},
{"e":7.60,"y":0.048,"d":0.0035,"w":0.02},
{"e":7.64,"y":0.050,"d":0.0035,"w":0.02},
{"e":7.68,"y":0.051,"d":0.0035,"w":0.02},
{"e":7.72,"y":0.053,"d":0.0035,"w":0.02}
]
},
"layer": [
{
  "data": {"name": "src"},
  "mark": {"type": "errorbar", "color": "#000000", "thickness": 1, "clip": true},
  "encoding": {
    "x": {"field": "e", "type": "quantitative", "scale": {"type": "log", "domain": [0.306, 7.72], "nice": false},
      "axis": {"orient": "bottom", "title": "channel energy (keV)", "values": [0.4,0.5,0.6,0.7,0.8,0.9,1,2,3,4,5,6,7], "format": "~g",
        "labelExpr": "indexof([0.5,1,2,5], datum.value) >= 0 ? datum.label : ''",
        "tickSize": {"condition": {"test": "indexof([0.5,1,2,5], datum.value) >= 0", "value": -9}, "value": -5},
        "labelPadding": 14, "titlePadding": 10}},
    "y": {"field": "y", "type": "quantitative", "scale": {"domain": [0, 0.34], "nice": false, "zero": false},
      "axis": {"orient": "left", "title": "normalized counts/sec/keV", "values": [0,0.02,0.04,0.06,0.08,0.1,0.12,0.14,0.16,0.18,0.2,0.22,0.24,0.26,0.28,0.3,0.32], "format": "~g",
        "labelExpr": "indexof([0,0.1,0.2,0.3], datum.value) >= 0 ? datum.label : ''",
        "tickSize": {"condition": {"test": "indexof([0,0.1,0.2,0.3], datum.value) >= 0", "value": -9}, "value": -5},
        "labelAngle": -90, "labelAlign": "center", "labelBaseline": "bottom", "labelPadding": 16, "titlePadding": 21}},
    "yError": {"field": "d"}
  }
},
{
  "data": {"name": "src"},
  "mark": {"type": "errorbar", "color": "#000000", "thickness": 1, "clip": true},
  "encoding": {
    "x": {"field": "e", "type": "quantitative", "scale": {"type": "log", "domain": [0.306, 7.72], "nice": false},
      "axis": {"orient": "top", "title": null, "labels": false, "values": [0.4,0.5,0.6,0.7,0.8,0.9,1,2,3,4,5,6,7],
        "tickSize": {"condition": {"test": "indexof([0.5,1,2,5], datum.value) >= 0", "value": -9}, "value": -5}}},
    "y": {"field": "y", "type": "quantitative", "scale": {"domain": [0, 0.34], "nice": false, "zero": false},
      "axis": {"orient": "right", "title": null, "labels": false, "values": [0,0.02,0.04,0.06,0.08,0.1,0.12,0.14,0.16,0.18,0.2,0.22,0.24,0.26,0.28,0.3,0.32],
        "tickSize": {"condition": {"test": "indexof([0,0.1,0.2,0.3], datum.value) >= 0", "value": -9}, "value": -5}}},
    "xError": {"field": "w"}
  }
},
{
  "data": {"name": "bkg"},
  "mark": {"type": "errorbar", "color": "#ff0000", "thickness": 1, "clip": true},
  "encoding": {
    "x": {"field": "e", "type": "quantitative", "axis": null},
    "y": {"field": "y", "type": "quantitative", "axis": null},
    "yError": {"field": "d"}
  }
},
{
  "data": {"name": "bkg"},
  "mark": {"type": "errorbar", "color": "#ff0000", "thickness": 1, "clip": true},
  "encoding": {
    "x": {"field": "e", "type": "quantitative", "axis": null},
    "y": {"field": "y", "type": "quantitative", "axis": null},
    "xError": {"field": "w"}
  }
},
{
  "data": {"values": [{}]},
  "mark": {"type": "text", "text": "NGC 6946: Diffuse Emission", "align": "left", "baseline": "middle", "fontSize": 17.5, "font": "DejaVu Sans", "color": "#000000"},
  "encoding": {
    "x": {"datum": 1.1186, "type": "quantitative", "axis": null},
    "y": {"datum": 0.2805, "type": "quantitative", "axis": null}
  }
},
{
  "data": {"values": [{}]},
  "mark": {"type": "text", "text": "Background", "align": "left", "baseline": "middle", "fontSize": 17, "font": "DejaVu Sans", "color": "#ff0000"},
  "encoding": {
    "x": {"datum": 0.3729, "type": "quantitative", "axis": null},
    "y": {"datum": 0.060, "type": "quantitative", "axis": null}
  }
}
],
"resolve": {"axis": {"x": "independent", "y": "independent"}}
}
